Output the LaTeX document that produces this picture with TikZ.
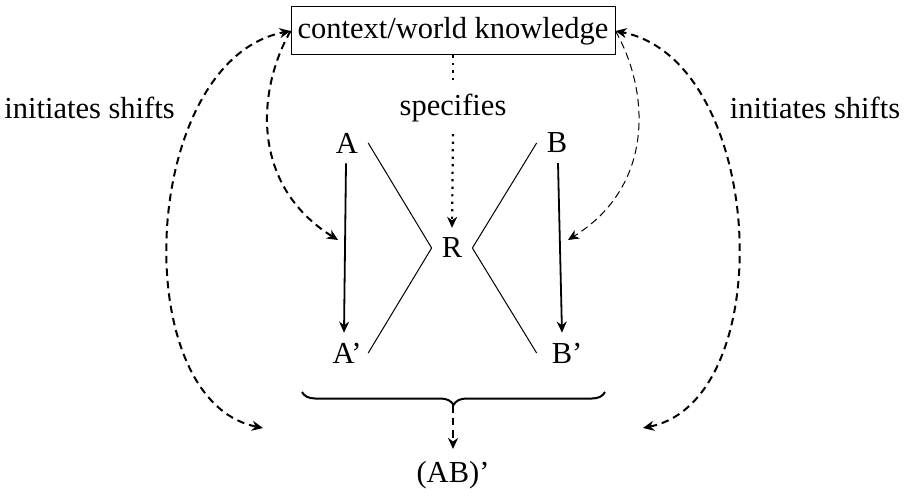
\documentclass[tikz,border=0pt]{standalone}
\usepackage{fontspec}
\setmainfont{Liberation Serif}
\usetikzlibrary{arrows.meta,decorations.pathreplacing,calc}
\begin{document}
\begin{tikzpicture}[x=1pt,y=-1pt,
  every node/.style={font=\fontsize{30.5}{36}\selectfont},
  letter/.style={inner sep=10pt},
  lbl/.style={inner sep=0pt},
  tiphead/.style={-{Stealth[length=11pt,width=10pt,inset=3.5pt]}},
  bothheads/.style={{Stealth[length=11pt,width=10pt,inset=3.5pt]}-{Stealth[length=11pt,width=10pt,inset=3.5pt]}},
  thickdash/.style={line width=2pt,dash pattern=on 7.5pt off 5pt},
  thindash/.style={line width=1pt,dash pattern=on 7.5pt off 4.5pt},
  dotline/.style={line width=2.2pt,dash pattern=on 2.2pt off 5.3pt},
  solidarrow/.style={line width=1.8pt},
  thinline/.style={line width=1pt}
]
\useasboundingbox (0,0) rectangle (904,497);

\node[draw,line width=1pt,minimum width=324pt,minimum height=48pt,inner sep=0pt] (box) at (453,31) {context/world knowledge};
\node[lbl,inner sep=12pt] (spec) at (453,108) {specifies};
\node[lbl] (il) at (89.5,108) {initiates shifts};
\node[lbl] (ir) at (815,108) {initiates shifts};

\node[letter] (A) at (347,143) {A};
\node[letter] (B) at (557,143) {B};
\node[letter] (R) at (452,248) {R};
\node[letter] (A2) at (347,353) {A'};
\node[letter] (B2) at (567,353) {B'};
\node[lbl] (AB) at (453,475) {(AB)'};

\coordinate (la) at (338,240);
\coordinate (rb) at (568,240);
\coordinate (lo) at (263,428);
\coordinate (ro) at (643,428);
\coordinate (bl) at (302,392);
\coordinate (br) at (605,392);
\coordinate (bt) at (453,405);

% transformation arrows
\draw[solidarrow,tiphead] ($(A.south)+(-1,0)$) -- ($(A2.north)+(-3,0)$);
\draw[solidarrow,tiphead] ($(B.south)+(1,0)$) -- ($(B2.north)+(-5,0)$);

% relation lines
\draw[thinline] (A.east) -- (R.west) -- (A2.east -| A.east);
\draw[thinline] (B.west) -- (R.east) -- (B2.west -| B.west);

% specifies
\draw[dotline] (box.south) -- (spec.north);
\draw[dotline,tiphead] (spec.south) -- (R.north);

% inner curves
\draw[thickdash,tiphead] (box.west) .. controls (257,90) and (250,185) .. (la);
\draw[thindash,tiphead] (box.east) .. controls (649,90) and (656,185) .. (rb);

% outer curves
\draw[thickdash,bothheads] (lo) .. controls (125,400) and (140,60) .. (box.west);
\draw[thickdash,bothheads] (ro) .. controls (781,400) and (766,60) .. (box.east);

% brace
\draw[line width=2pt,decorate,decoration={brace,mirror,amplitude=13pt}] (bl) -- (br);
\draw[thickdash,tiphead,shorten >=12pt] (bt) -- (AB);
\end{tikzpicture}
\end{document}
